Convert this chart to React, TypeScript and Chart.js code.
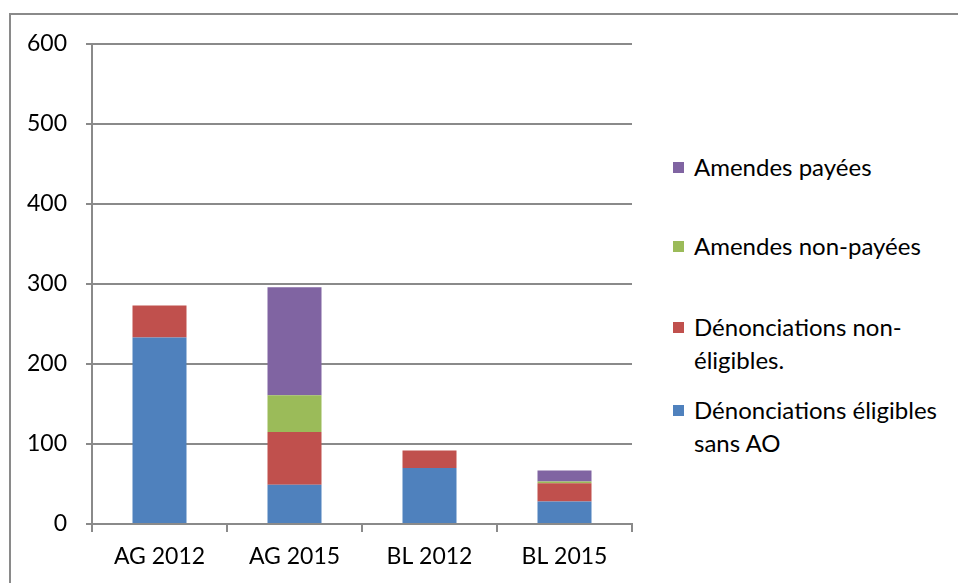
import React, { useEffect, useRef } from "react";
import { Chart, registerables } from "chart.js";

Chart.register(...registerables);

const categories = ["AG 2012", "AG 2015", "BL 2012", "BL 2015"];
const eligiblesSansAO = [233, 49, 70, 28];
const nonEligibles = [40, 66, 22, 23];
const amendesNonPayees = [0, 46, 0, 2];
const amendesPayees = [0, 135, 0, 14];
const yTicks = [0, 100, 200, 300, 400, 500, 600];

const seriesNames = [
  "Dénonciations éligibles sans AO",
  "Dénonciations non-éligibles.",
  "Amendes non-payées",
  "Amendes payées",
];
const seriesColors = ["#4F81BD", "#C0504D", "#9BBB59", "#8064A2"];
const legendLines = [
  ["Amendes payées"],
  ["Amendes non-payées"],
  ["Dénonciations non-", "éligibles."],
  ["Dénonciations éligibles", "sans AO"],
];
const legendColors = ["#8064A2", "#9BBB59", "#C0504D", "#4F81BD"];

const FONT = "Lato, 'Open Sans', sans-serif";
const AXIS = "#8a8a8a";

export default function App() {
  const ref = useRef<HTMLCanvasElement | null>(null);

  useEffect(() => {
    document.documentElement.style.overflow = "hidden";
    document.body.style.overflow = "hidden";
    if (!ref.current) return;
    const values = [eligiblesSansAO, nonEligibles, amendesNonPayees, amendesPayees];
    const chart = new Chart(ref.current, {
      type: "bar",
      data: {
        labels: categories,
        datasets: values.map((v, i) => ({
          label: seriesNames[i],
          data: v,
          backgroundColor: seriesColors[i],
          borderWidth: 0,
          categoryPercentage: 1,
          barPercentage: 0.4,
        })),
      },
      options: {
        responsive: false,
        animation: false,
        devicePixelRatio: 1,
        layout: { padding: { top: 44, right: 8, left: 0, bottom: 0 } },
        plugins: { legend: { display: false }, tooltip: { enabled: false } },
        scales: {
          x: {
            stacked: true,
            grid: {
              offset: true,
              drawOnChartArea: false,
              drawTicks: true,
              tickLength: 8,
              color: AXIS,
              lineWidth: 2,
            },
            border: { color: AXIS, width: 2 },
            ticks: {
              color: "#000",
              font: { family: FONT, size: 23 },
              padding: 11,
            },
            afterFit: (s: any) => {
              s.height = 59;
            },
          },
          y: {
            stacked: true,
            min: 0,
            max: 600,
            afterBuildTicks: (s: any) => {
              s.ticks = yTicks.map((v) => ({ value: v }));
            },
            grid: { color: AXIS, lineWidth: 2, tickLength: 6 },
            border: { color: AXIS, width: 2 },
            ticks: {
              color: "#000",
              font: { family: FONT, size: 23 },
              padding: 19,
            },
            afterFit: (s: any) => {
              s.width = 92;
            },
          },
        },
      },
    });
    return () => chart.destroy();
  }, []);

  return (
    <div
      style={{
        position: "fixed",
        left: 0,
        top: 0,
        width: 958,
        height: 583,
        overflow: "hidden",
        background: "#fff",
        fontFamily: FONT,
      }}
    >
      <div
        style={{
          position: "absolute",
          left: 9,
          top: 13,
          width: 949,
          height: 570,
          borderTop: `2px solid ${AXIS}`,
          borderLeft: `2px solid ${AXIS}`,
          boxSizing: "border-box",
        }}
      />
      <canvas
        ref={ref}
        width={640}
        height={583}
        style={{ position: "absolute", left: 0, top: 0 }}
      />
      {legendLines.map((lines, i) => {
        const tops = [150, 229, 310, 393];
        return (
          <div
            key={i}
            style={{ position: "absolute", left: 673, top: tops[i], fontSize: 24, lineHeight: "33px", color: "#000" }}
          >
            <div
              style={{
                position: "absolute",
                left: 0,
                top: 12,
                width: 11,
                height: 11,
                background: legendColors[i],
              }}
            />
            <div style={{ marginLeft: 21, whiteSpace: "nowrap" }}>
              {lines.map((l, j) => (
                <div key={j}>{l}</div>
              ))}
            </div>
          </div>
        );
      })}
    </div>
  );
}
